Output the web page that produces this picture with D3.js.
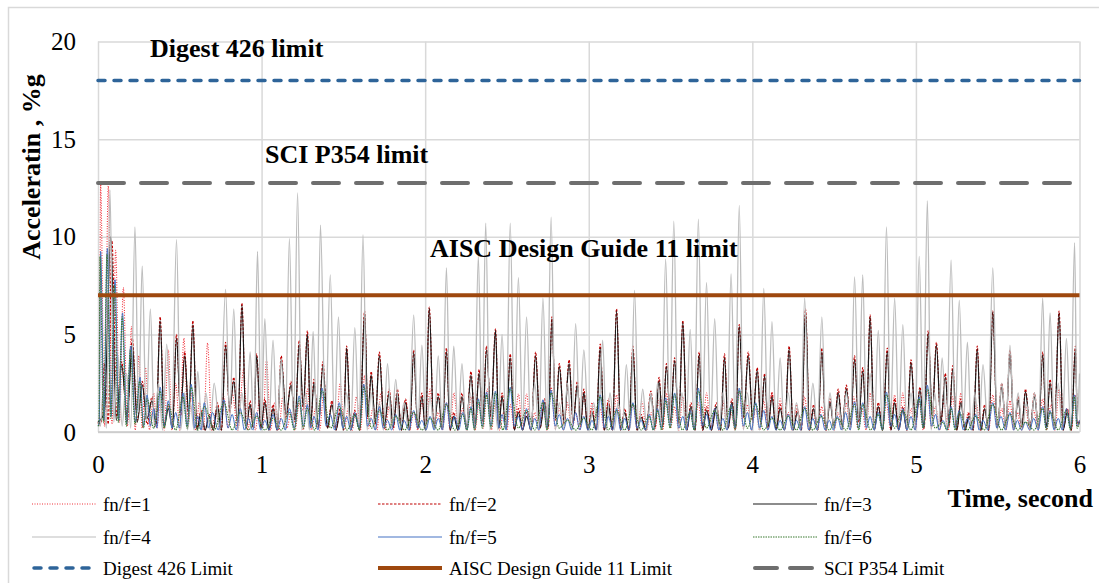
<!DOCTYPE html>
<html>
<head>
<meta charset="utf-8">
<script src="https://cdn.jsdelivr.net/npm/d3@7"></script>
<style>
  body { margin: 0; background: #fff; }
  text { font-family: "Liberation Serif", "Times New Roman", serif; fill: #000; }
</style>
</head>
<body>
<div id="chart"></div>
<script>
// each entry: [time s, peak %g, trough after it %g]
var fn1 = [[0,0.5,0.3],[0.016,12.7,0.3],[0.063,12.6,0.4],[0.108,9.3,0.5],[0.155,7.4,0.3],[0.205,5.4,0.1],[0.25,3.9,0.2],[0.29,3.3,0.1],[0.34,2.0,0.2],[0.38,1.5,0.1],[0.43,4.2,0.1],[0.475,2.5,0.1],[0.525,4.8,0.3],[0.575,2.0,0.1],[0.62,1.5,0.1],[0.67,4.55,0.1],[0.72,1.0,0.1],[0.77,1.8,0.2],[0.82,2.0,0.1],[0.89,3.2,0.1],[0.94,1.2,0.1],[0.985,1.5,0.2],[1.03,3.7,0.1],[1.08,1.5,0.1],[1.13,1.8,0.2],[1.18,1.0,0.1],[1.23,1.5,0.1],[1.28,2.2,0.1],[1.33,1.2,0.1],[1.38,2.0,0.2],[1.43,1.5,0.1],[1.48,2.5,0.1],[1.53,1.2,0.1],[1.58,1.8,0.1],[1.63,2.9,0.2],[1.68,1.2,0.1],[1.73,2.0,0.1],[1.78,1.3,0.1],[1.83,1.8,0.2],[1.88,1.6,0.1],[1.93,1.0,0.1],[1.98,1.5,0.1],[2.03,2.2,0.2],[2.08,1.0,0.1],[2.13,1.5,0.1],[2.175,2.0,0.2],[2.23,1.2,0.1],[2.28,1.8,0.1],[2.33,1.5,0.2],[2.38,2.2,0.1],[2.43,1.6,0.1],[2.48,1.0,0.1],[2.52,1.4,0.2],[2.57,1.95,0.2],[2.62,1.95,0.1],[2.67,1.0,0.1],[2.72,1.5,0.1],[2.77,2.3,0.2],[2.82,1.2,0.1],[2.87,1.5,0.1],[2.92,1.0,0.1],[2.97,1.8,0.1],[3.02,1.5,0.1],[3.07,1.2,0.1],[3.12,1.7,0.1],[3.17,1.9,0.2],[3.22,1.0,0.1],[3.27,1.4,0.1],[3.325,1.55,0.1],[3.38,1.0,0.1],[3.43,1.7,0.1],[3.475,2.0,0.2],[3.525,1.3,0.1],[3.575,1.8,0.1],[3.62,1.1,0.1],[3.67,1.5,0.1],[3.72,2.0,0.2],[3.77,1.2,0.1],[3.82,1.6,0.1],[3.87,1.0,0.1],[3.92,2.1,0.2],[3.97,1.4,0.1],[4.02,1.2,0.1],[4.07,1.6,0.1],[4.12,2.05,0.2],[4.17,1.7,0.1],[4.22,1.0,0.1],[4.27,1.4,0.1],[4.32,1.8,0.1],[4.37,1.1,0.1],[4.425,1.3,0.1],[4.475,1.55,0.1],[4.525,1.0,0.1],[4.575,1.5,0.1],[4.62,1.8,0.2],[4.67,1.2,0.1],[4.72,2.0,0.2],[4.77,1.3,0.1],[4.82,1.5,0.1],[4.87,1.9,0.2],[4.92,2.0,0.1],[4.97,1.2,0.1],[5.02,1.6,0.1],[5.07,2.1,0.2],[5.12,1.3,0.1],[5.17,1.5,0.1],[5.225,1.8,0.1],[5.275,2.0,0.2],[5.32,1.0,0.1],[5.37,1.4,0.1],[5.42,1.1,0.1],[5.47,1.9,0.2],[5.525,1.2,0.1],[5.575,1.6,0.1],[5.62,1.0,0.1],[5.67,1.3,0.1],[5.72,1.1,0.1],[5.775,1.7,0.1],[5.825,1.4,0.1],[5.875,2.2,0.2],[5.925,1.2,0.1],[5.975,1.9,0.3],[6.0,0.6,0]];

var fn2 = [[0,0.4,0.5],[0.04,3.5,0.4],[0.085,9.8,0.8],[0.145,3.6,0.5],[0.21,4.8,0.6],[0.27,2.6,0.4],[0.33,1.8,0.3],[0.38,5.9,0.3],[0.43,1.4,0.2],[0.48,5.0,0.8],[0.53,4.1,0.7],[0.58,5.7,0.2],[0.63,1.1,0.1],[0.68,0.9,0.1],[0.73,1.5,0.1],[0.78,4.6,1.0],[0.83,2.8,0.3],[0.88,6.6,0.2],[0.93,1.6,0.2],[0.97,4.0,0.2],[1.02,1.7,0.1],[1.07,1.4,0.1],[1.12,3.9,0.7],[1.18,2.6,0.5],[1.23,4.7,1.1],[1.28,5.2,0.3],[1.32,2.7,0.2],[1.375,3.6,0.2],[1.43,1.6,0.1],[1.48,1.2,0.1],[1.52,4.4,0.1],[1.57,1.1,0.1],[1.63,6.2,0.7],[1.67,3.1,0.4],[1.72,4.1,0.2],[1.78,2.2,0.2],[1.83,2.2,0.1],[1.88,1.7,0.1],[1.93,4.2,0.2],[1.98,2.0,0.1],[2.025,6.4,0.2],[2.08,2.0,0.2],[2.13,4.3,0.1],[2.175,1.0,0.1],[2.225,2.0,0.2],[2.28,3.1,0.3],[2.33,3.2,0.5],[2.375,4.4,0.7],[2.43,5.3,0.2],[2.47,2.0,0.2],[2.52,4.0,0.1],[2.57,1.2,0.1],[2.62,1.0,0.1],[2.675,4.1,0.2],[2.73,1.7,0.2],[2.775,5.9,0.6],[2.82,3.5,0.4],[2.88,3.7,0.4],[2.93,2.6,0.3],[2.97,2.2,0.1],[3.02,1.2,0.1],[3.07,4.5,0.1],[3.12,1.6,0.1],[3.17,6.3,0.1],[3.22,1.2,0.1],[3.27,4.4,0.1],[3.32,0.9,0.1],[3.38,2.1,0.2],[3.43,2.8,0.3],[3.475,3.5,0.5],[3.525,3.8,0.4],[3.575,5.7,0.1],[3.625,1.5,0.1],[3.675,4.1,0.1],[3.72,1.3,0.1],[3.78,1.5,0.1],[3.83,4.0,0.2],[3.875,1.7,0.2],[3.92,5.5,0.7],[3.975,4.1,0.5],[4.03,3.3,0.4],[4.075,3.0,0.2],[4.12,2.0,0.1],[4.17,1.4,0.1],[4.225,4.4,0.1],[4.275,1.2,0.1],[4.325,6.3,0.1],[4.375,1.4,0.1],[4.425,4.3,0.1],[4.475,1.7,0.2],[4.525,2.2,0.2],[4.575,2.4,0.3],[4.625,3.9,0.5],[4.675,3.3,0.4],[4.72,6.0,0.1],[4.77,1.5,0.1],[4.825,4.3,0.1],[4.87,1.7,0.1],[4.92,1.3,0.1],[4.97,3.7,0.4],[5.025,2.3,0.2],[5.075,5.2,0.7],[5.125,4.6,0.4],[5.18,3.0,0.3],[5.225,3.4,0.1],[5.275,1.7,0.1],[5.325,1.0,0.1],[5.375,4.4,0.1],[5.42,1.4,0.1],[5.47,6.2,0.2],[5.525,2.5,0.2],[5.575,4.2,0.2],[5.625,1.8,0.2],[5.67,2.2,0.2],[5.725,2.0,0.2],[5.775,4.1,0.2],[5.82,2.7,0.2],[5.875,6.2,0.1],[5.925,1.2,0.1],[5.975,4.4,0.4],[6.0,0.5,0]];

var fn3 = [[0,0.5,1.0],[0.078,10.0,0.6],[0.145,3.4,0.8],[0.21,4.5,0.5],[0.27,2.4,0.7],[0.33,1.6,0.4],[0.38,5.7,0.3],[0.43,1.2,0.2],[0.48,4.8,1.0],[0.53,3.9,0.9],[0.58,5.5,0.1],[0.63,1.0,0.1],[0.68,0.8,0.1],[0.73,1.3,0.1],[0.78,4.4,1.2],[0.83,2.6,0.5],[0.88,6.5,0.2],[0.93,1.4,0.2],[0.97,3.9,0.2],[1.02,1.5,0.1],[1.07,1.2,0.1],[1.12,3.7,0.9],[1.18,2.4,0.6],[1.23,4.5,1.3],[1.28,5.0,0.4],[1.32,2.5,0.3],[1.375,3.4,0.2],[1.43,1.4,0.1],[1.48,1.0,0.1],[1.52,4.3,0.1],[1.57,0.9,0.1],[1.63,6.1,0.8],[1.67,2.9,0.5],[1.72,3.9,0.3],[1.78,2.0,0.3],[1.83,2.0,0.1],[1.88,1.5,0.1],[1.93,4.05,0.2],[1.98,1.8,0.1],[2.025,6.35,0.2],[2.08,1.8,0.2],[2.13,4.1,0.1],[2.175,0.8,0.1],[2.225,1.8,0.3],[2.28,2.9,0.4],[2.33,3.0,0.6],[2.375,4.2,0.8],[2.43,5.2,0.2],[2.47,1.8,0.2],[2.52,3.8,0.1],[2.57,1.0,0.1],[2.62,0.8,0.1],[2.675,3.9,0.2],[2.73,1.5,0.3],[2.775,5.8,0.7],[2.82,3.35,0.5],[2.88,3.5,0.5],[2.93,2.4,0.4],[2.97,2.0,0.1],[3.02,1.0,0.1],[3.07,4.3,0.1],[3.12,1.4,0.1],[3.17,6.2,0.1],[3.22,1.0,0.1],[3.27,4.25,0.1],[3.32,0.75,0.1],[3.38,1.9,0.3],[3.43,2.6,0.4],[3.475,3.35,0.6],[3.525,3.65,0.5],[3.575,5.6,0.1],[3.625,1.3,0.1],[3.675,3.95,0.1],[3.72,1.1,0.1],[3.78,1.3,0.1],[3.83,3.8,0.2],[3.875,1.5,0.3],[3.92,5.4,0.8],[3.975,3.9,0.6],[4.03,3.15,0.5],[4.075,2.85,0.3],[4.12,1.8,0.1],[4.17,1.2,0.1],[4.225,4.25,0.1],[4.275,1.0,0.1],[4.325,6.2,0.1],[4.375,1.2,0.1],[4.425,4.1,0.1],[4.475,1.5,0.2],[4.525,2.0,0.3],[4.575,2.2,0.4],[4.625,3.7,0.6],[4.675,3.1,0.5],[4.72,5.9,0.1],[4.77,1.3,0.1],[4.825,4.1,0.1],[4.87,1.5,0.1],[4.92,1.1,0.1],[4.97,3.55,0.5],[5.025,2.15,0.3],[5.075,5.05,0.8],[5.125,4.45,0.5],[5.18,2.8,0.4],[5.225,3.2,0.1],[5.275,1.5,0.1],[5.325,0.8,0.1],[5.375,4.25,0.1],[5.42,1.2,0.1],[5.47,6.15,0.2],[5.525,2.3,0.3],[5.575,4.0,0.2],[5.625,1.65,0.3],[5.67,2.05,0.2],[5.725,1.8,0.2],[5.775,3.95,0.3],[5.82,2.5,0.2],[5.875,6.1,0.1],[5.925,1.0,0.1],[5.975,4.25,0.5],[6.0,0.5,0]];

var fn4 = [[0,0.5,0.3],[0.03,2.0,0.2],[0.073,12.4,0.5],[0.12,4.0,0.3],[0.175,3.0,0.2],[0.226,10.5,1.0],[0.27,8.5,0.6],[0.32,6.3,0.2],[0.37,2.5,0.1],[0.42,4.5,0.2],[0.48,9.85,0.1],[0.53,2.0,0.1],[0.565,1.5,0.1],[0.61,3.1,0.1],[0.66,2.0,0.1],[0.71,2.5,0.1],[0.78,7.3,0.6],[0.83,6.3,0.1],[0.88,2.0,0.1],[0.93,4.1,0.1],[0.975,9.25,0.4],[1.02,5.8,0.3],[1.07,4.7,0.2],[1.12,3.7,0.1],[1.17,9.9,0.3],[1.22,12.25,0.1],[1.27,2.0,0.1],[1.315,5.15,0.2],[1.36,10.6,0.4],[1.42,8.05,0.3],[1.47,5.9,0.1],[1.52,2.0,0.1],[1.57,5.35,0.1],[1.62,10.1,0.1],[1.67,2.0,0.1],[1.72,1.5,0.1],[1.77,3.5,0.2],[1.82,2.7,0.1],[1.87,1.5,0.1],[1.93,6.0,0.3],[1.98,4.45,0.1],[2.03,1.8,0.1],[2.08,3.9,0.2],[2.13,8.4,0.4],[2.175,4.4,0.3],[2.225,3.5,0.1],[2.275,2.0,0.1],[2.325,9.0,0.5],[2.37,10.7,0.1],[2.42,2.0,0.1],[2.47,5.0,0.1],[2.52,10.7,0.5],[2.57,7.9,0.4],[2.62,5.9,0.1],[2.67,2.5,0.1],[2.72,6.85,0.4],[2.77,11.0,0.1],[2.82,1.5,0.1],[2.87,2.5,0.1],[2.92,5.55,0.3],[2.97,4.2,0.1],[3.03,1.5,0.1],[3.085,4.7,0.1],[3.13,2.0,0.1],[3.18,1.5,0.1],[3.23,3.45,0.2],[3.28,7.25,0.1],[3.33,2.2,0.1],[3.38,2.0,0.1],[3.42,2.5,0.2],[3.47,8.85,0.5],[3.52,10.8,0.1],[3.57,2.0,0.1],[3.62,5.25,0.1],[3.67,10.9,0.5],[3.72,7.65,0.4],[3.77,5.8,0.1],[3.82,2.0,0.1],[3.87,8.1,0.4],[3.92,11.6,0.1],[3.97,2.0,0.1],[4.02,1.5,0.1],[4.07,7.35,0.4],[4.12,5.65,0.3],[4.17,3.8,0.1],[4.22,2.0,0.1],[4.27,1.5,0.1],[4.32,6.85,0.1],[4.37,2.5,0.1],[4.425,5.9,0.1],[4.475,2.0,0.1],[4.525,1.5,0.1],[4.575,2.0,0.1],[4.625,7.95,0.6],[4.675,8.05,0.3],[4.72,3.0,0.1],[4.77,5.2,0.2],[4.82,10.5,0.5],[4.87,6.85,0.4],[4.92,5.5,0.1],[4.97,2.0,0.1],[5.02,9.0,0.5],[5.07,11.85,0.1],[5.115,2.0,0.1],[5.16,3.8,0.2],[5.215,8.8,0.5],[5.265,6.75,0.4],[5.315,4.6,0.1],[5.36,2.0,0.1],[5.41,3.45,0.2],[5.47,8.4,0.1],[5.525,2.5,0.1],[5.575,4.45,0.1],[5.625,2.0,0.1],[5.675,1.5,0.1],[5.725,2.0,0.1],[5.775,6.85,0.5],[5.82,6.1,0.2],[5.87,2.5,0.1],[5.92,4.8,0.3],[5.97,9.7,0.5],[6.0,3.0,0]];

var fn5 = [[0,0.3,0.5],[0.016,9.25,0.6],[0.057,9.4,0.8],[0.104,7.8,0.6],[0.15,6.1,0.4],[0.2,4.4,0.5],[0.257,2.8,0.3],[0.3,1.9,0.3],[0.34,1.2,0.2],[0.38,2.3,0.3],[0.43,1.6,0.2],[0.475,1.0,0.2],[0.52,2.0,0.3],[0.57,2.45,0.2],[0.61,0.8,0.1],[0.65,1.5,0.2],[0.7,1.0,0.1],[0.77,1.65,0.2],[0.82,0.9,0.1],[0.87,1.2,0.1],[0.92,0.7,0.1],[0.97,1.0,0.1],[1.02,0.6,0.1],[1.07,0.9,0.1],[1.12,0.7,0.1],[1.17,1.2,0.2],[1.23,1.85,0.3],[1.28,1.4,0.2],[1.32,0.8,0.1],[1.37,2.25,0.3],[1.42,0.9,0.1],[1.475,1.5,0.2],[1.52,0.8,0.1],[1.57,1.0,0.2],[1.625,2.45,0.3],[1.67,0.7,0.1],[1.72,1.3,0.2],[1.77,0.6,0.1],[1.82,0.9,0.1],[1.87,0.6,0.1],[1.93,1.1,0.2],[1.98,0.6,0.1],[2.03,0.8,0.1],[2.08,0.7,0.1],[2.13,1.5,0.2],[2.18,0.8,0.1],[2.23,1.0,0.1],[2.28,1.3,0.2],[2.325,1.7,0.3],[2.375,2.05,0.3],[2.43,2.1,0.2],[2.47,0.9,0.1],[2.52,2.3,0.3],[2.57,0.8,0.1],[2.62,1.2,0.1],[2.67,0.7,0.1],[2.72,1.65,0.2],[2.77,2.15,0.3],[2.82,0.9,0.1],[2.87,0.7,0.1],[2.92,1.0,0.1],[2.97,0.8,0.1],[3.02,0.6,0.1],[3.07,1.9,0.2],[3.12,0.8,0.1],[3.17,1.2,0.1],[3.22,0.7,0.1],[3.27,1.5,0.2],[3.32,0.6,0.1],[3.37,0.9,0.1],[3.42,1.2,0.2],[3.47,1.75,0.3],[3.525,2.0,0.2],[3.575,0.8,0.1],[3.62,1.1,0.1],[3.67,2.25,0.3],[3.72,0.9,0.1],[3.77,1.2,0.1],[3.82,0.7,0.1],[3.87,1.4,0.2],[3.92,2.25,0.3],[3.97,1.0,0.1],[4.02,1.5,0.2],[4.07,1.1,0.1],[4.12,0.8,0.1],[4.17,0.6,0.1],[4.22,0.9,0.1],[4.27,0.6,0.1],[4.32,1.3,0.1],[4.37,0.7,0.1],[4.42,0.9,0.1],[4.47,0.6,0.1],[4.52,0.8,0.1],[4.57,1.0,0.1],[4.625,1.55,0.2],[4.675,1.5,0.2],[4.72,0.8,0.1],[4.77,1.0,0.1],[4.82,2.05,0.3],[4.87,0.9,0.1],[4.92,1.2,0.1],[4.97,0.8,0.1],[5.02,1.8,0.2],[5.07,2.4,0.3],[5.12,0.9,0.1],[5.165,0.6,0.1],[5.215,1.3,0.2],[5.265,1.1,0.1],[5.315,0.7,0.1],[5.365,0.9,0.1],[5.41,0.6,0.1],[5.47,1.5,0.2],[5.52,0.8,0.1],[5.575,1.0,0.1],[5.62,0.6,0.1],[5.67,0.5,0.1],[5.72,0.7,0.1],[5.775,1.3,0.2],[5.82,1.1,0.1],[5.87,0.7,0.1],[5.92,1.2,0.2],[5.97,1.9,0.3],[6.0,0.6,0]];

var fn6 = [[0,0.3,0.4],[0.012,9.0,0.5],[0.055,9.1,0.7],[0.1,7.5,0.5],[0.148,5.9,0.3],[0.198,4.2,0.4],[0.255,2.6,0.2],[0.3,1.7,0.2],[0.38,2.1,0.2],[0.43,1.4,0.1],[0.52,1.8,0.2],[0.57,2.3,0.1],[0.65,1.3,0.1],[0.77,1.5,0.1],[0.87,1.0,0.1],[0.97,0.8,0.1],[1.07,0.7,0.1],[1.17,1.0,0.1],[1.23,1.7,0.2],[1.28,1.2,0.1],[1.37,2.1,0.2],[1.475,1.3,0.1],[1.57,0.9,0.1],[1.625,2.3,0.2],[1.72,1.1,0.1],[1.82,0.8,0.1],[1.93,1.0,0.1],[2.03,0.7,0.1],[2.13,1.4,0.1],[2.23,0.9,0.1],[2.28,1.2,0.1],[2.325,1.6,0.2],[2.375,1.9,0.2],[2.43,2.0,0.1],[2.52,2.2,0.2],[2.62,1.1,0.1],[2.72,1.5,0.1],[2.77,2.0,0.2],[2.87,0.6,0.1],[2.97,0.7,0.1],[3.07,1.8,0.1],[3.17,1.1,0.1],[3.27,1.4,0.1],[3.37,0.8,0.1],[3.42,1.1,0.1],[3.47,1.6,0.2],[3.525,1.9,0.1],[3.62,1.0,0.1],[3.67,2.1,0.2],[3.77,1.1,0.1],[3.87,1.3,0.1],[3.92,2.1,0.2],[4.02,1.4,0.1],[4.12,0.7,0.1],[4.22,0.8,0.1],[4.32,1.2,0.1],[4.42,0.8,0.1],[4.52,0.7,0.1],[4.625,1.4,0.1],[4.675,1.4,0.1],[4.77,0.9,0.1],[4.82,1.9,0.2],[4.92,1.1,0.1],[5.02,1.7,0.2],[5.07,2.2,0.2],[5.165,0.5,0.1],[5.215,1.2,0.1],[5.265,1.0,0.1],[5.365,0.8,0.1],[5.47,1.4,0.1],[5.575,0.9,0.1],[5.67,0.5,0.1],[5.775,1.2,0.1],[5.82,1.0,0.1],[5.92,1.1,0.1],[5.97,1.8,0.2],[6.0,0.5,0]];

var limitNames = ["Digest 426 Limit", "AISC Design Guide 11 Limit", "SCI P354 Limit"];
var limitValues = [18, 7, 12.75];
var limitLabels = ["Digest 426 limit", "AISC Design Guide 11 limit", "SCI P354 limit"];
var seriesNames = ["fn/f=1", "fn/f=2", "fn/f=3", "fn/f=4", "fn/f=5", "fn/f=6"];
var xTicks = [0, 1, 2, 3, 4, 5, 6];
var yTicks = [0, 5, 10, 15, 20];

var W = 1099, H = 583;
var FONT = "'Liberation Serif', 'Times New Roman', serif";
var svg = d3.select("#chart").append("svg")
  .attr("width", W)
  .attr("height", H)
  .attr("font-family", FONT);

// outer chart frame
svg.append("rect")
  .attr("x", 8.5).attr("y", 7.5)
  .attr("width", 1095).attr("height", 590)
  .attr("fill", "none")
  .attr("stroke", "#d9d9d9")
  .attr("stroke-width", 1.5);

var x = d3.scaleLinear().domain([0, 6]).range([98, 1079.5]);
var y = d3.scaleLinear().domain([0, 20]).range([432, 41.5]);

// gridlines + tick labels
var yAxis = svg.append("g")
  .attr("transform", "translate(" + x(0) + ",0)")
  .call(d3.axisLeft(y).tickValues(yTicks).tickSize(-(x(6) - x(0))).tickPadding(22).tickFormat(d3.format("d")));
yAxis.attr("font-family", FONT).attr("font-size", 25);
yAxis.select(".domain").remove();
yAxis.selectAll("line").attr("stroke", "#d9d9d9").attr("stroke-width", 1.5);
yAxis.selectAll("text").attr("fill", "#000");

var xAxis = svg.append("g")
  .attr("transform", "translate(0," + y(0) + ")")
  .call(d3.axisBottom(x).tickValues(xTicks).tickSize(-(y(0) - y(20))).tickPadding(23).tickFormat(d3.format("d")));
xAxis.attr("font-family", FONT).attr("font-size", 25);
xAxis.select(".domain").remove();
xAxis.selectAll("line").attr("stroke", "#d9d9d9").attr("stroke-width", 1.5);
xAxis.selectAll("text").attr("fill", "#000");

svg.append("line")
  .attr("x1", x(0)).attr("x2", x(6))
  .attr("y1", y(0)).attr("y2", y(0))
  .attr("stroke", "#c8c8c8").attr("stroke-width", 1.5);

// series
function toPoints(s) {
  var pts = [];
  s.forEach(function (d, i) {
    pts.push([d[0], d[1]]);
    if (i < s.length - 1) pts.push([(d[0] + s[i + 1][0]) / 2, d[2]]);
  });
  return pts;
}

var line = d3.line()
  .x(function (d) { return x(d[0]); })
  .y(function (d) { return y(d[1]); })
  .curve(d3.curveMonotoneX);

var seriesData = [fn1, fn2, fn3, fn4, fn5, fn6];
var seriesColor = ["#f0303a", "#c00000", "#1a1a1a", "#bdbdbd", "#4472c4", "#3a7a30"];
var seriesDash = ["1,1.5", "2.5,1.5", null, null, null, "1.5,1"];
var seriesWidth = [1.1, 1.1, 1.2, 1.3, 1, 1.1];

svg.append("clipPath").attr("id", "plotclip")
  .append("rect").attr("x", x(0) - 1).attr("y", y(20)).attr("width", x(6) - x(0) + 2).attr("height", y(0) - y(20) + 1);

var gSeries = svg.append("g").attr("clip-path", "url(#plotclip)");
seriesData.forEach(function (s, i) {
  gSeries.append("path")
    .datum(toPoints(s))
    .attr("d", line)
    .attr("fill", "none")
    .attr("stroke", seriesColor[i])
    .attr("stroke-width", seriesWidth[i])
    .attr("stroke-dasharray", seriesDash[i]);
});

// limit lines
var limitColor = ["#2e6499", "#9e480e", "#6e6e6e"];
var limitDash = ["7,9", null, "26,17"];
var limitWidth = [3.5, 4, 4];
var limitCap = ["round", "butt", "round"];
var gLimits = svg.append("g");
[2, 1, 0].forEach(function (i) {
  gLimits.append("line")
    .attr("x1", x(0)).attr("x2", x(6))
    .attr("y1", y(limitValues[i])).attr("y2", y(limitValues[i]))
    .attr("stroke", limitColor[i])
    .attr("stroke-width", limitWidth[i])
    .attr("stroke-dasharray", limitDash[i])
    .attr("stroke-linecap", limitCap[i]);
});

// limit annotations
var labelPos = [[150, 57], [430, 257], [265, 163]];
limitLabels.forEach(function (t, i) {
  svg.append("text")
    .attr("x", labelPos[i][0]).attr("y", labelPos[i][1])
    .attr("font-size", 26).attr("font-weight", "bold")
    .text(t);
});

// axis titles
svg.append("text")
  .attr("transform", "translate(40,167) rotate(-90)")
  .attr("text-anchor", "middle")
  .attr("font-size", 26).attr("font-weight", "bold")
  .text("Acceleratin , %g");

svg.append("text")
  .attr("x", 1093).attr("y", 507)
  .attr("text-anchor", "end")
  .attr("font-size", 26).attr("font-weight", "bold")
  .text("Time, second");

// legend
var legendItems = [];
seriesNames.forEach(function (n, i) {
  legendItems.push({ name: n, color: seriesColor[i], dash: seriesDash[i], width: 1.2, cap: "butt" });
});
limitNames.forEach(function (n, i) {
  legendItems.push({ name: n, color: limitColor[i], dash: limitDash[i], width: limitWidth[i], cap: limitCap[i] });
});
var legendColX = [32, 378, 753];
var legendRowY = [504, 537, 568];
var gLegend = svg.append("g");
legendItems.forEach(function (d, i) {
  var cx = legendColX[i % 3], cy = legendRowY[Math.floor(i / 3)];
  gLegend.append("line")
    .attr("x1", cx + (d.cap == "round" ? 2 : 0)).attr("x2", cx + 64 - (d.cap == "round" ? 2 : 0))
    .attr("y1", cy).attr("y2", cy)
    .attr("stroke", d.color)
    .attr("stroke-width", d.width)
    .attr("stroke-dasharray", d.name == "SCI P354 Limit" ? "22,13" : d.dash)
    .attr("stroke-linecap", d.cap);
  gLegend.append("text")
    .attr("x", cx + 71).attr("y", cy + 7)
    .attr("font-size", 19)
    .text(d.name);
});
</script>
</body>
</html>
